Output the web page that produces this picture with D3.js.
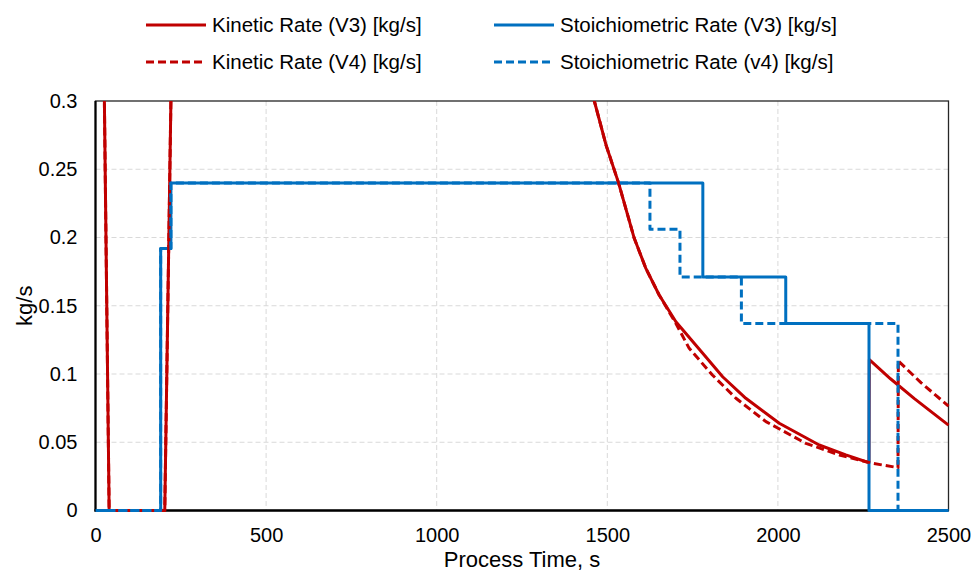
<!DOCTYPE html>
<html>
<head>
<meta charset="utf-8">
<script src="https://cdn.jsdelivr.net/npm/d3@7"></script>
<style>
  html, body { margin: 0; padding: 0; background: #fff; }
  svg { display: block; font-family: "Liberation Sans", Arial, sans-serif; }
</style>
</head>
<body>
<svg id="chart" width="972" height="577"></svg>
<script>
// Process time [s] and rate [kg/s] for each series
const kineticV3Time = [20, 40, 203, 221, 235, 1380, 1430, 1462, 1496, 1533, 1579, 1613, 1652, 1701, 1784, 1838, 1906, 2004, 2121, 2199, 2267, 2268, 2330, 2400, 2500];
const kineticV3Rate = [0.43, 0, 0, 0.3, 0.52, 0.36, 0.33, 0.3, 0.268, 0.24, 0.1994, 0.1774, 0.1579, 0.1383, 0.1139, 0.098, 0.0822, 0.0639, 0.048, 0.0407, 0.035, 0.1105, 0.0965, 0.082, 0.0625];

const kineticV4Time = [20, 40, 203, 221, 235, 1380, 1430, 1462, 1496, 1533, 1579, 1613, 1652, 1700, 1740, 1808, 1877, 1965, 2082, 2180, 2277, 2352, 2353, 2420, 2500];
const kineticV4Rate = [0.43, 0, 0, 0.3, 0.52, 0.36, 0.33, 0.3, 0.268, 0.24, 0.1994, 0.1774, 0.1579, 0.1375, 0.1188, 0.0993, 0.0822, 0.0651, 0.0492, 0.0407, 0.0346, 0.0314, 0.1095, 0.0935, 0.0765];

const stoichV3Time = [0, 191, 191, 221, 221, 1780, 1780, 2023, 2023, 2267, 2267, 2500];
const stoichV3Rate = [0, 0, 0.192, 0.192, 0.24, 0.24, 0.171, 0.171, 0.137, 0.137, 0, 0];

const stoichV4Time = [0, 191, 191, 221, 221, 1625, 1625, 1713, 1713, 1893, 1893, 2352, 2352, 2500];
const stoichV4Rate = [0, 0, 0.192, 0.192, 0.24, 0.24, 0.206, 0.206, 0.171, 0.171, 0.137, 0.137, 0, 0];

const xTicks = [0, 500, 1000, 1500, 2000, 2500];
const yTicks = [0, 0.05, 0.1, 0.15, 0.2, 0.25, 0.3];
const yTickLabels = ["0", "0.05", "0.1", "0.15", "0.2", "0.25", "0.3"];

const seriesNames = ["Kinetic Rate (V3) [kg/s]", "Stoichiometric Rate (V3) [kg/s]", "Kinetic Rate (V4) [kg/s]", "Stoichiometric Rate (v4) [kg/s]"];
const xTitle = "Process Time, s";
const yTitle = "kg/s";

const RED = "#C00000", BLUE = "#0070C0";

const series = [
  { name: seriesNames[0], t: kineticV3Time, v: kineticV3Rate, color: RED, dash: null },
  { name: seriesNames[1], t: stoichV3Time, v: stoichV3Rate, color: BLUE, dash: null },
  { name: seriesNames[2], t: kineticV4Time, v: kineticV4Rate, color: RED, dash: "8,4" },
  { name: seriesNames[3], t: stoichV4Time, v: stoichV4Rate, color: BLUE, dash: "8,4" }
];

const svg = d3.select("#chart");
const plot = { left: 95.5, right: 948.5, top: 101, bottom: 510.5 };

const x = d3.scaleLinear().domain([0, 2500]).range([plot.left, plot.right]);
const y = d3.scaleLinear().domain([0, 0.3]).range([plot.bottom, plot.top]);

// Gridlines
const grid = svg.append("g");
grid.selectAll(".gx").data(xTicks.slice(1, -1)).join("line")
  .attr("x1", d => x(d)).attr("x2", d => x(d))
  .attr("y1", plot.top).attr("y2", plot.bottom)
  .attr("stroke", "#D9D9D9").attr("stroke-width", 1).attr("stroke-dasharray", "5,3");
grid.selectAll(".gy").data(yTicks.slice(1, -1)).join("line")
  .attr("x1", plot.left).attr("x2", plot.right)
  .attr("y1", d => y(d)).attr("y2", d => y(d))
  .attr("stroke", "#D9D9D9").attr("stroke-width", 1).attr("stroke-dasharray", "5,3");

// Plot frame
svg.append("rect")
  .attr("x", plot.left).attr("y", plot.top)
  .attr("width", plot.right - plot.left).attr("height", plot.bottom - plot.top)
  .attr("fill", "none").attr("stroke", "#262626").attr("stroke-width", 1.3);

// Axes
const xAxis = d3.axisBottom(x).tickValues(xTicks).tickSize(0).tickPadding(17).tickFormat(d => String(d));
const yAxis = d3.axisLeft(y).tickValues(yTicks).tickSize(0).tickPadding(18).tickFormat((d, i) => yTickLabels[i]);

const gx = svg.append("g").attr("transform", `translate(0,${plot.bottom})`).call(xAxis);
const gy = svg.append("g").attr("transform", `translate(${plot.left},0)`).call(yAxis);
[gx, gy].forEach(g => {
  g.select(".domain").remove();
  g.selectAll("text").attr("font-size", 20).attr("fill", "#000")
    .attr("font-family", "Liberation Sans, Arial, sans-serif");
});

svg.append("line").attr("x1", plot.left).attr("x2", plot.left).attr("y1", plot.top).attr("y2", plot.bottom + 1)
  .attr("stroke", "#000").attr("stroke-width", 2.2);
svg.append("line").attr("x1", plot.left - 1).attr("x2", plot.right).attr("y1", plot.bottom).attr("y2", plot.bottom)
  .attr("stroke", "#000").attr("stroke-width", 2.4);

// Axis titles
svg.append("text").attr("x", (plot.left + plot.right) / 2).attr("y", 567)
  .attr("text-anchor", "middle").attr("font-size", 22).attr("fill", "#000").text(xTitle);
svg.append("text").attr("transform", `translate(32,${(plot.top + plot.bottom) / 2}) rotate(-90)`)
  .attr("text-anchor", "middle").attr("font-size", 22).attr("fill", "#000").text(yTitle);

// Series
svg.append("clipPath").attr("id", "plotClip").append("rect")
  .attr("x", plot.left).attr("y", plot.top)
  .attr("width", plot.right - plot.left + 2).attr("height", plot.bottom - plot.top + 4);

const line = d3.line().x(d => x(d[0])).y(d => y(d[1]));
const lines = svg.append("g").attr("clip-path", "url(#plotClip)");
series.forEach(s => {
  lines.append("path")
    .datum(s.t.map((t, i) => [t, s.v[i]]))
    .attr("d", line)
    .attr("fill", "none")
    .attr("stroke", s.color)
    .attr("stroke-width", 3)
    .attr("stroke-linejoin", "round")
    .attr("stroke-dasharray", s.dash);
});

// Legend (two rows, two columns)
const legendPos = [
  { x: 146, y: 25 }, { x: 494, y: 25 },
  { x: 146, y: 62 }, { x: 494, y: 62 }
];
series.forEach((s, i) => {
  const p = legendPos[i];
  const g = svg.append("g").attr("transform", `translate(${p.x},${p.y})`);
  g.append("line").attr("x1", 0).attr("x2", 60).attr("y1", 0).attr("y2", 0)
    .attr("stroke", s.color).attr("stroke-width", 3).attr("stroke-dasharray", s.dash);
  g.append("text").attr("x", 66).attr("y", 0).attr("dy", "0.36em")
    .attr("font-size", 20.5).attr("fill", "#000").text(s.name);
});
</script>
</body>
</html>
